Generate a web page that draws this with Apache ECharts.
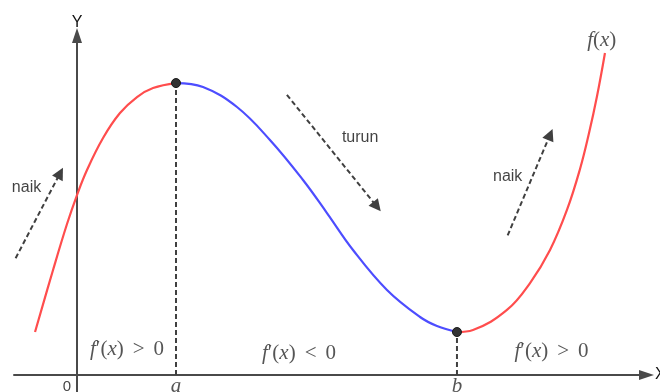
<!DOCTYPE html>
<html>
<head>
<meta charset="utf-8">
<script src="https://cdn.jsdelivr.net/npm/echarts@6/dist/echarts.min.js"></script>
<style>html,body{margin:0;padding:0;background:#fff;}#c{width:660px;height:392px;}</style>
</head>
<body>
<div id="c"></div>
<script>
// Curve samples [x, f(x)] (units: a = 1)
const risingLeft = [[-0.424,0.434],[-0.242,1.061],[-0.101,1.525],[0,1.818],[0.101,2.071],[0.263,2.394],[0.434,2.646],[0.606,2.808],[0.768,2.899],[1,2.949]];
const falling = [[1,2.949],[1.273,2.909],[1.616,2.707],[1.949,2.374],[2.283,1.970],[2.525,1.636],[2.788,1.263],[3.131,0.859],[3.465,0.586],[3.636,0.495],[3.838,0.434]];
const risingRight = [[3.838,0.434],[4.0,0.455],[4.343,0.657],[4.576,0.929],[4.778,1.263],[4.949,1.667],[5.081,2.081],[5.172,2.444],[5.253,2.818],[5.333,3.253]];
const extrema = [[1,2.949],[3.838,0.434]];
const tickValues = [0, 1, 3.838];
const tickLabels = ['0', 'a', 'b'];
const trendArrows = [[[-0.62,1.18],[-0.17,2.04]], [[2.12,2.83],[3.03,1.70]], [[4.35,1.41],[4.78,2.43]]];
const trendLabels = [{name:'naik', value:[-0.51,1.89]}, {name:'turun', value:[2.86,2.40]}, {name:'naik', value:[4.35,2.00]}];
const derivLabels = [{name:'>', value:[0.505,0.253]}, {name:'<', value:[2.242,0.222]}, {name:'>', value:[4.793,0.242]}];
const funcLabel = [{name:'f(x)', value:[5.30,3.38]}];

const RED = '#ff4d4d', BLUE = '#4d4dff', DARK = '#404040';
const serif = 'Liberation Serif';
const mathRich = {
  i:{fontFamily:serif, fontStyle:'italic', fontSize:21, color:'#2a2a2a'},
  n:{fontFamily:serif, fontSize:21, color:'#2a2a2a'},
  r:{fontFamily:serif, fontSize:21, color:'#2a2a2a', padding:[0,9,0,9]}
};

const chart = echarts.init(document.getElementById('c'), null, {renderer:'canvas'});
const curveSeries = (data, color) => ({
  type:'line', data, smooth:0.4, symbol:'none', z:3,
  lineStyle:{color, width:2.2}
});
const tickData = tickValues.map((v, k) => ({
  name: tickLabels[k], value:[v, 0],
  label: tickLabels[k] === '0'
    ? {fontFamily:'Liberation Sans', fontStyle:'normal', fontSize:15, color:'#111', offset:[-10, 12]}
    : {offset:[0, 11]}
}));
chart.setOption({
  animation:false,
  grid:{left:14, right:13.5, top:35.5, bottom:0, containLabel:false, outerBoundsMode:'none'},
  xAxis:{
    type:'value', min:-0.6364, max:5.7525,
    axisLine:{onZero:true, symbol:['none','triangle'], symbolSize:[10,15], lineStyle:{color:'#4a4a4a', width:2}},
    axisTick:{show:false}, splitLine:{show:false}, axisLabel:{show:false},
    name:'X', nameLocation:'end', nameGap:8.5,
    nameTextStyle:{fontFamily:'Liberation Sans', fontSize:16, color:'#111'}
  },
  yAxis:{
    type:'value', min:-0.1717, max:3.4293,
    axisLine:{onZero:true, symbol:['none','triangle'], symbolSize:[10,15], lineStyle:{color:'#4a4a4a', width:2}},
    axisTick:{show:false}, splitLine:{show:false}, axisLabel:{show:false},
    name:'Y', nameLocation:'end', nameGap:5,
    nameTextStyle:{fontFamily:'Liberation Sans', fontSize:16, color:'#111', lineHeight:16}
  },
  series:[
    {type:'line', symbol:'none', z:2, data:[[extrema[0][0],0],extrema[0]], lineStyle:{color:DARK, width:2, type:[5,3]}},
    {type:'line', symbol:'none', z:2, data:[[extrema[1][0],0],extrema[1]], lineStyle:{color:DARK, width:2, type:[5,3]}},
    curveSeries(risingLeft, RED),
    curveSeries(falling, BLUE),
    curveSeries(risingRight, RED),
    {type:'scatter', data:extrema, symbolSize:9, z:5,
     itemStyle:{color:'#333', borderColor:'#1a1a1a', borderWidth:1, opacity:1}},
    {type:'lines', coordinateSystem:'cartesian2d', z:2,
     data:trendArrows.map(c=>({coords:c})),
     symbol:['none','triangle'], symbolSize:[9,12], symbolOffset:[0, 6],
     lineStyle:{color:DARK, width:2, type:[5,3], opacity:1, curveness:0}},
    {type:'scatter', data:trendLabels, symbolSize:0, z:6,
     label:{show:true, position:'inside', formatter:'{b}', fontFamily:'Liberation Sans', fontSize:16, color:'#111'}},
    {type:'scatter', data:derivLabels, symbolSize:0, z:6,
     label:{show:true, position:'inside',
       formatter:(p)=>'{i|f}{n|′(}{i|x}{n|)}{r|'+p.name+'}{n|0}', rich:mathRich}},
    {type:'scatter', data:funcLabel, symbolSize:0, z:6,
     label:{show:true, position:'inside',
       formatter:()=>'{i|f}{n|(}{i|x}{n|)}', rich:mathRich}},
    {type:'scatter', data:tickData, symbolSize:0, z:6,
     label:{show:true, position:'inside', formatter:'{b}',
       fontFamily:serif, fontStyle:'italic', fontSize:21, color:'#2a2a2a'}}
  ]
});
</script>
</body>
</html>
